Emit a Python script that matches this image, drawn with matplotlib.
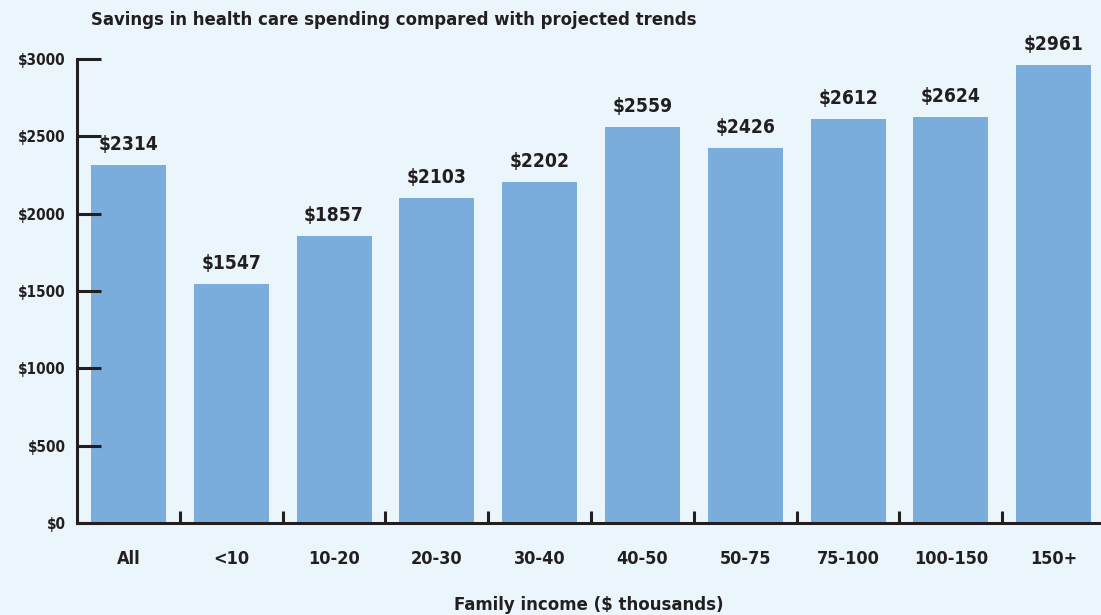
import numpy as np
import matplotlib
matplotlib.use("Agg")
import matplotlib.pyplot as plt
from matplotlib import font_manager

categories = ["All", "<10", "10-20", "20-30", "30-40", "40-50", "50-75",
              "75-100", "100-150", "150+"]
savings = [2314, 1547, 1857, 2103, 2202, 2559, 2426, 2612, 2624, 2961]
y_ticks = [0, 500, 1000, 1500, 2000, 2500, 3000]

names = {f.name for f in font_manager.fontManager.ttflist}
font = "Liberation Sans Narrow" if "Liberation Sans Narrow" in names else "DejaVu Sans"
plt.rcParams["font.family"] = [font, "DejaVu Sans"]
plt.rcParams["font.weight"] = "bold"
plt.rcParams["font.stretch"] = "condensed"

bg = "#ebf6fc"
bar_color = "#7aaddc"
ink = "#231f20"

fig = plt.figure(figsize=(11.01, 6.15), dpi=100, facecolor=bg)
ax = fig.add_axes([77 / 1101, 92 / 615, 1 - 77 / 1101, 464 / 615])
ax.set_facecolor(bg)

x = np.arange(len(categories))
ax.bar(x, savings, width=0.73, color=bar_color, zorder=1)
for xi, v in zip(x, savings):
  ax.annotate(f"${v}", (xi, v), xytext=(0, 8), textcoords="offset points",
              ha="center", va="bottom", fontsize=13.8, fontweight="bold",
              color=ink, annotation_clip=False)

ax.set_xlim(-0.5, 9.46)
ax.set_ylim(0, 3000)
for side in ["top", "right"]:
  ax.spines[side].set_visible(False)
for side in ["left", "bottom"]:
  ax.spines[side].set_linewidth(2.2)
  ax.spines[side].set_color(ink)
  ax.spines[side].set_zorder(3)

ax.set_yticks(y_ticks)
ax.set_yticklabels([f"${t}" for t in y_ticks])
ax.tick_params(axis="y", direction="in", length=17, width=2.2, color=ink,
               labelsize=11, labelcolor=ink, pad=8)

ax.set_xticks(x)
ax.set_xticklabels(categories)
ax.set_xticks(x[:-1] + 0.5, minor=True)
ax.tick_params(axis="x", which="major", length=0, labelsize=13,
               labelcolor=ink, pad=19.5)
ax.tick_params(axis="x", which="minor", direction="in", length=8.5,
               width=2.2, color=ink)
for lbl in ax.get_xticklabels() + ax.get_yticklabels():
  lbl.set_fontweight("bold")

fig.text(589 / 1101, 5 / 615, "Family income ($ thousands)",
         ha="center", va="baseline", fontsize=13.3, fontweight="bold",
         color=ink)
fig.text(91 / 1101, 1 - 20 / 615,
         "Savings in health care spending compared with projected trends",
         ha="left", va="center", fontsize=13.2, fontweight="bold", color=ink)

fig.savefig("out.png", dpi=100, facecolor=bg)
